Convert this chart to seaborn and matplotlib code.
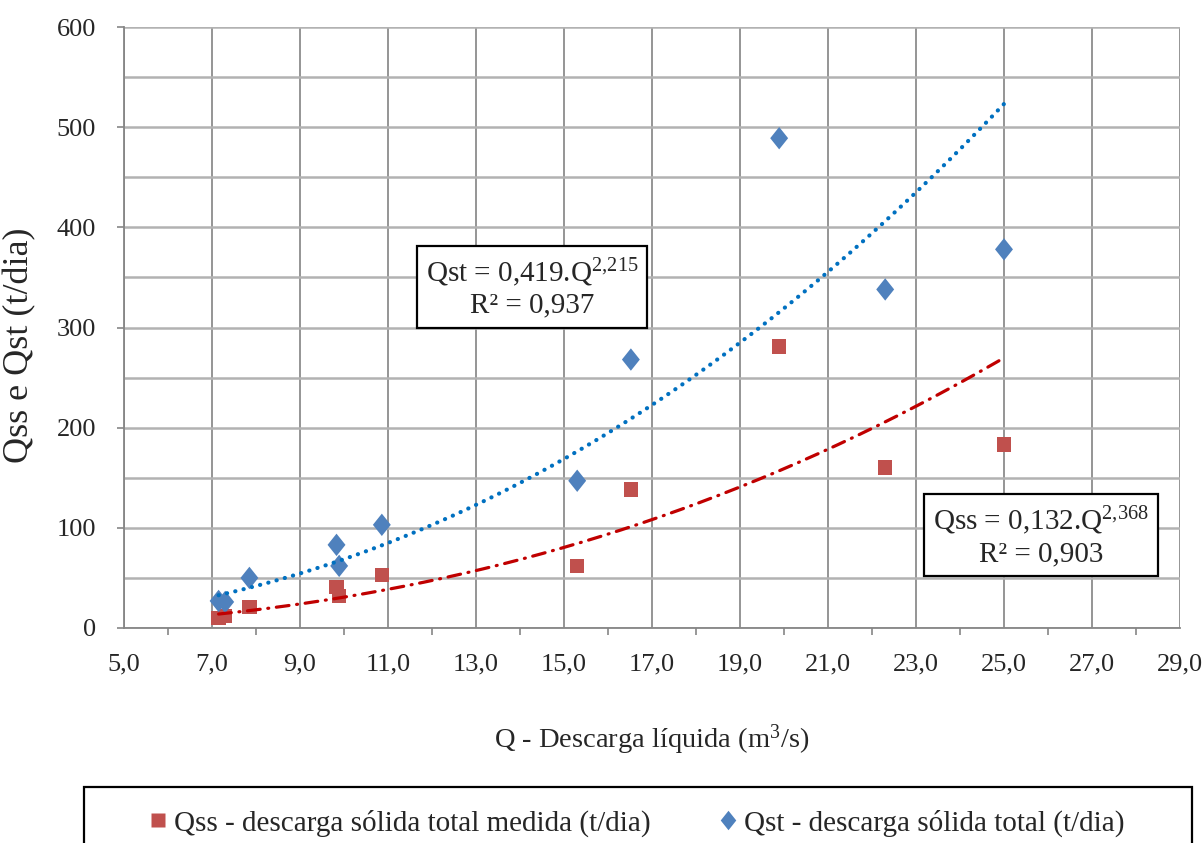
import numpy as np
import pandas as pd
import matplotlib
matplotlib.use("Agg")
import matplotlib.pyplot as plt
from matplotlib.ticker import MultipleLocator, FuncFormatter
from matplotlib.lines import Line2D
from matplotlib.patches import Rectangle
import seaborn as sns

# ---- data ----
q_values = [7.15, 7.30, 7.85, 9.83, 9.89, 10.86, 15.30, 16.52, 19.89, 22.30, 25.00]
qst_values = [27, 26, 50, 83, 62, 103, 147, 268, 489, 338, 378]
qss_values = [10, 12, 21, 41, 32, 53, 62, 138, 281, 160, 183]

# power-law trendline coefficients shown on the chart
qst_coef = [0.419, 2.215]
qss_coef = [0.132, 2.368]
qst_r2 = "0,937"
qss_r2 = "0,903"

x_ticks = [5, 7, 9, 11, 13, 15, 17, 19, 21, 23, 25, 27, 29]
y_ticks = [0, 100, 200, 300, 400, 500, 600]

label_qss = "Qss - descarga sólida total medida (t/dia)"
label_qst = "Qst - descarga sólida total (t/dia)"

# ---- style ----
sns.set_theme(style="white")
plt.rcParams["font.family"] = ["Liberation Serif", "DejaVu Serif"]
plt.rcParams["mathtext.fontset"] = "custom"
plt.rcParams["mathtext.rm"] = "Liberation Serif"
plt.rcParams["mathtext.it"] = "Liberation Serif:italic"

C_QSS = "#C0504D"
C_QST = "#4F81BD"
C_QSS_LINE = "#C00000"
C_QST_LINE = "#0070C0"

fig = plt.figure(figsize=(12.04, 8.43), dpi=100)
ax = fig.add_axes([124 / 1204, 1 - 628 / 843, (1180 - 124) / 1204, (628 - 27) / 843])

df = pd.DataFrame({"Q": q_values, "Qst": qst_values, "Qss": qss_values})

diamond = [(0, 1.0), (0.8, 0), (0, -1.0), (-0.8, 0), (0, 1.0)]
sns.scatterplot(data=df, x="Q", y="Qss", marker="s", s=110, color=C_QSS,
                edgecolor="none", ax=ax, zorder=3)
sns.scatterplot(data=df, x="Q", y="Qst", marker=diamond, s=260, color=C_QST,
                edgecolor="none", ax=ax, zorder=3)

# trendlines
xs = np.linspace(min(q_values), max(q_values), 200)
trend = pd.DataFrame({
    "Q": xs,
    "Qst_fit": qst_coef[0] * xs ** qst_coef[1],
    "Qss_fit": qss_coef[0] * xs ** qss_coef[1],
})
sns.lineplot(data=trend, x="Q", y="Qst_fit", ax=ax, color=C_QST_LINE, lw=3.0,
             linestyle=(0, (0.05, 2.0)), dash_capstyle="round", zorder=4,
             estimator=None, sort=False)
sns.lineplot(data=trend, x="Q", y="Qss_fit", ax=ax, color=C_QSS_LINE, lw=2.3,
             linestyle=(0, (4.0, 2.4, 0.3, 2.4)), dash_capstyle="round", zorder=4,
             estimator=None, sort=False)

# axes
ax.set_xlim(5, 29)
ax.set_ylim(0, 600)
ax.set_xticks(x_ticks)
ax.xaxis.set_minor_locator(MultipleLocator(1))
ax.set_yticks(y_ticks)
ax.yaxis.set_minor_locator(MultipleLocator(50))
ax.xaxis.set_major_formatter(FuncFormatter(lambda v, p: f"{v:.1f}".replace(".", ",")))
ax.yaxis.set_major_formatter(FuncFormatter(lambda v, p: f"{int(v)}"))

ax.grid(True, axis="x", which="major", color="#8c8c8c", lw=1.3)
ax.grid(True, axis="y", which="both", color="#b2b2b2", lw=1.8)
ax.set_axisbelow(True)

for side in ["top", "right"]:
    ax.spines[side].set_visible(False)
for side in ["left", "bottom"]:
    ax.spines[side].set_color("#868686")
    ax.spines[side].set_linewidth(1.3)

ax.tick_params(axis="x", which="major", direction="out", length=5, width=1.2,
               color="#868686", pad=13, labelsize=19)
ax.tick_params(axis="x", which="minor", direction="out", length=5, width=1.2,
               color="#868686", bottom=True)
ax.tick_params(axis="y", which="major", direction="out", length=5, width=1.2,
               color="#868686", pad=15, labelsize=19, left=True)
ax.tick_params(axis="y", which="minor", length=0)

ax.set_xlabel("")
ax.set_ylabel("")
fig.text((124 + 1180) / 2 / 1204, 1 - 740 / 843, "Q - Descarga líquida (m$^{3}$/s)",
         ha="center", va="center", fontsize=20.5)
fig.text(20 / 1204, 1 - 345 / 843, "Qss e Qst (t/dia)", rotation=90,
         ha="center", va="center", fontsize=26)

# equation boxes
box = dict(boxstyle="square,pad=0.3", facecolor="white", edgecolor="black", lw=1.6)
ax.text(14.27, 340,
        f"Qst = {qst_coef[0]:.3f}.Q".replace(".", ",", 1)
        + r"$^{\mathrm{" + f"{qst_coef[1]:.3f}".replace(".", "{,}") + r"}}$"
        + f"\nR² = {qst_r2}",
        ha="center", va="center", multialignment="center", fontsize=21,
        bbox=box, zorder=6)
ax.text(25.84, 92,
        f"Qss = {qss_coef[0]:.3f}.Q".replace(".", ",", 1)
        + r"$^{\mathrm{" + f"{qss_coef[1]:.3f}".replace(".", "{,}") + r"}}$"
        + f"\nR² = {qss_r2}",
        ha="center", va="center", multialignment="center", fontsize=21,
        bbox=box, zorder=6, clip_on=False)

# legend at bottom (box partly cut off, as in the reference)
fig.patches.append(Rectangle((84 / 1204, -0.05), (1192 - 84) / 1204, 0.05 + (1 - 787 / 843),
                             transform=fig.transFigure, facecolor="white",
                             edgecolor="black", lw=1.6, zorder=1))
handles = [
    Line2D([], [], marker="s", color="none", markerfacecolor=C_QSS,
           markeredgecolor="none", markersize=10, label=label_qss),
    Line2D([], [], marker=diamond, color="none", markerfacecolor=C_QST,
           markeredgecolor="none", markersize=14, label=label_qst),
]
leg = fig.legend(handles=handles, loc="center",
                 bbox_to_anchor=(638 / 1204, 1 - 823 / 843),
                 ncol=2, fontsize=21, frameon=False,
                 handlelength=0.5, handletextpad=0.3, columnspacing=2.4,
                 borderpad=0.0, borderaxespad=0)
leg.set_zorder(2)

fig.savefig("out.png", dpi=100)
